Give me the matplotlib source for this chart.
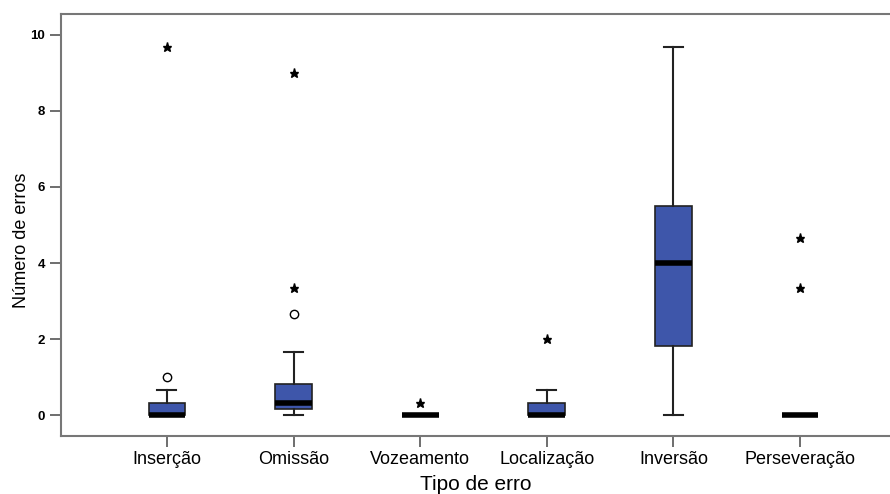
import matplotlib
matplotlib.use('Agg')
from matplotlib import pyplot as plt

plt.rcParams['font.family'] = ['Liberation Sans', 'DejaVu Sans']

# tipos de erro e estatisticas
categorias = ['Inserção', 'Omissão', 'Vozeamento', 'Localização', 'Inversão', 'Perseveração']
q1 = [0, 0.17, 0, 0, 1.83, 0]
mediana = [0, 0.33, 0, 0, 4.0, 0]
q3 = [0.33, 0.83, 0, 0.33, 5.5, 0]
bigode_min = [0, 0, 0, 0, 0, 0]
bigode_max = [0.67, 1.67, 0, 0.67, 9.67, 0]
outliers = [[1.0], [2.67], [], [], [], []]       # circulos
extremos = [[9.67], [3.33, 9.0], [0.33], [2.0], [], [3.33, 4.67]]  # estrelas

azul = '#3E56AA'

fig = plt.figure(figsize=(8.9, 4.94), dpi=100)
ax = fig.add_axes([0.0685, 0.1174, 0.9315, 0.8543])

stats = []
for i in range(len(categorias)):
    stats.append({'label': categorias[i], 'q1': q1[i], 'med': mediana[i], 'q3': q3[i],
                  'whislo': bigode_min[i], 'whishi': bigode_max[i], 'fliers': outliers[i]})

pos = list(range(len(categorias)))
ax.bxp(stats, positions=pos, widths=0.29, patch_artist=True,
       boxprops=dict(facecolor=azul, edgecolor='#222222', linewidth=1.2),
       medianprops=dict(color='black', linewidth=4, solid_capstyle='butt'),
       whiskerprops=dict(color='#222222', linewidth=1.5),
       capprops=dict(color='#222222', linewidth=1.5),
       capwidths=0.15,
       flierprops=dict(marker='o', markerfacecolor='white', markeredgecolor='black',
                       markersize=6, markeredgewidth=1))

for i, vals in enumerate(extremos):
    ax.plot([pos[i]] * len(vals), vals, linestyle='none', marker='*',
            color='black', markersize=6.5)

ax.set_xlim(-0.837, 5.71)
ax.set_ylim(-0.55, 10.55)
ax.set_yticks([0, 2, 4, 6, 8, 10])
ax.set_xticks(pos)
ax.set_xticklabels(categorias, fontsize=13)
for lab in ax.get_yticklabels():
    lab.set_fontweight('bold')
    lab.set_fontsize(9.5)

ax.tick_params(axis='both', direction='out', length=8, width=1.2, color='#555555')
ax.tick_params(axis='x', pad=3)
for s in ['left', 'bottom', 'top']:
    ax.spines[s].set_color('#777777')
    ax.spines[s].set_linewidth(1.5)
ax.spines['right'].set_visible(False)

ax.set_xlabel('Tipo de erro', fontsize=15, labelpad=5)
ax.set_ylabel('Número de erros', fontsize=13)
ax.yaxis.set_label_coords(-0.037, 0.464)

fig.savefig('out.png', dpi=100)
